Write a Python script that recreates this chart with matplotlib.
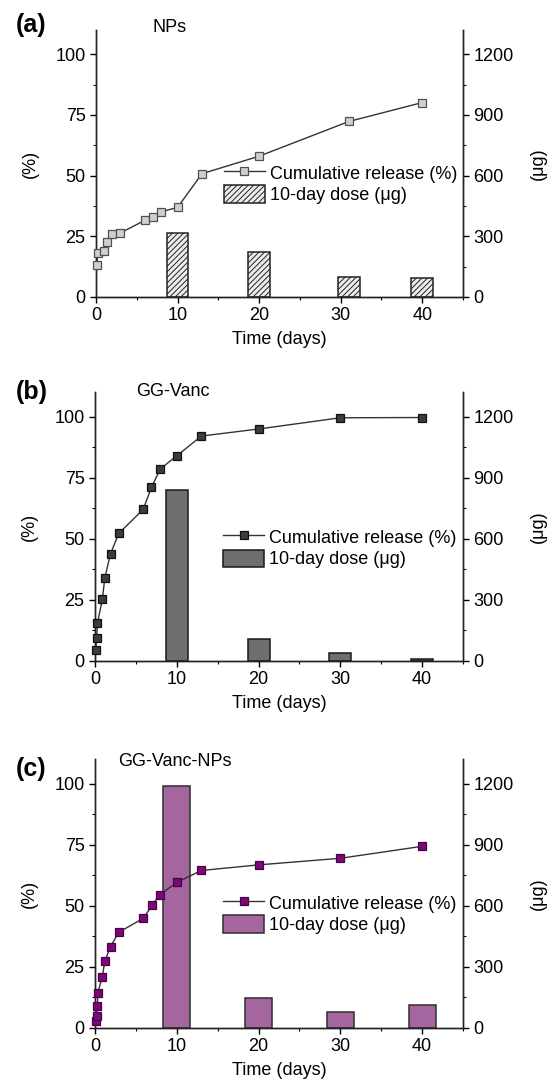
import matplotlib
matplotlib.use("Agg")
import matplotlib.pyplot as plt
from matplotlib.ticker import MultipleLocator
from matplotlib.lines import Line2D
from matplotlib.patches import Patch

plt.rcParams["font.family"] = ["Liberation Sans", "DejaVu Sans"]
plt.rcParams["font.size"] = 13
plt.rcParams["hatch.linewidth"] = 0.7

# cumulative release (%)
np_days = [0.13, 0.2, 1, 1.3, 2, 3, 6, 7, 8, 10, 13, 20, 31, 40]
np_release = [13.2, 18.0, 18.9, 22.7, 26.0, 26.4, 31.6, 32.8, 35.1, 36.9, 50.8, 58.0, 72.3, 80.1]

vanc_days = [0.1, 0.2, 0.3, 0.9, 1.2, 1.9, 2.9, 5.9, 6.9, 8, 10, 13, 20, 30, 40]
vanc_release = [4.5, 9.5, 15.6, 25.2, 34.1, 43.9, 52.2, 62.1, 71.1, 78.7, 84.0, 92.1, 95.0, 99.6, 99.7]

vnp_days = [0.1, 0.2, 0.3, 0.35, 0.9, 1.2, 1.9, 2.9, 5.9, 7, 7.9, 10, 13, 20, 30, 40]
vnp_release = [2.7, 5.0, 9.2, 14.5, 21.0, 27.4, 33.3, 39.2, 44.9, 50.3, 54.5, 59.6, 64.5, 66.8, 69.5, 74.4]

# 10-day doses (ug)
dose_days = [10, 20, 30, 40]
np_days_bar = [10, 20, 31, 40]
np_dose = [314, 224, 98, 92]
vanc_dose = [839, 106, 37, 10]
vnp_dose = [1187, 148, 80, 114]

panels = [
    dict(tag="(a)", name="NPs", x=np_days, y=np_release, bx=np_days_bar, by=np_dose, bw=2.65,
         mfc="#cfcfcf", mec="#505050", bfc="#ececec", bec="#222222", hatch="//////",
         left=96, bottom=0.7258, height=0.2465, leg_y=0.423, tag_y=25, name_x=152, name_y=28),
    dict(tag="(b)", name="GG-Vanc", x=vanc_days, y=vanc_release, bx=dose_days, by=vanc_dose, bw=2.7,
         mfc="#3c3c3c", mec="#111111", bfc="#6e6e6e", bec="#1a1a1a", hatch=None,
         left=95, bottom=0.3897, height=0.248, leg_y=0.42, tag_y=392, name_x=136, name_y=392),
    dict(tag="(c)", name="GG-Vanc-NPs", x=vnp_days, y=vnp_release, bx=dose_days, by=vnp_dose, bw=3.3,
         mfc="#7a0a78", mec="#4a0048", bfc="#a5669f", bec="#2e2e2e", hatch=None,
         left=95, bottom=0.0508, height=0.248, leg_y=0.424, tag_y=769, name_x=118, name_y=761),
]

W, H = 555, 1083
fig = plt.figure(figsize=(W / 100, H / 100), dpi=100)

for p in panels:
    ax = fig.add_axes([p["left"] / W, p["bottom"], (463 - p["left"]) / W, p["height"]])
    ax2 = ax.twinx()

    ax2.bar(p["bx"], p["by"], width=p["bw"], color=p["bfc"], edgecolor=p["bec"],
            linewidth=1.1, hatch=p["hatch"], zorder=2)
    ax.plot(p["x"], p["y"], color="#333333", lw=1.0, marker="s", ms=6.3,
            mfc=p["mfc"], mec=p["mec"], mew=0.9, zorder=3, clip_on=False)

    ax.set_zorder(ax2.get_zorder() + 1)
    ax.patch.set_visible(False)

    ax.set_xlim(0, 45)
    ax.set_ylim(0, 110)
    ax2.set_ylim(0, 1320)
    ax.xaxis.set_major_locator(MultipleLocator(10))
    ax.xaxis.set_minor_locator(MultipleLocator(5))
    ax.yaxis.set_major_locator(MultipleLocator(25))
    ax.yaxis.set_minor_locator(MultipleLocator(12.5))
    ax2.yaxis.set_major_locator(MultipleLocator(300))
    ax2.yaxis.set_minor_locator(MultipleLocator(150))

    for a in (ax, ax2):
        a.spines["top"].set_visible(False)
        for s in a.spines.values():
            s.set_linewidth(1.0)
            s.set_color("#222222")
        a.tick_params(which="major", direction="out", length=4.5, width=1.0, labelsize=13, pad=3)
        a.tick_params(which="minor", direction="out", length=2.5, width=0.8)

    ax.set_ylabel("(%)", labelpad=12)
    ax2.set_ylabel("(μg)", rotation=90, labelpad=12)
    ax.set_xlabel("Time (days)", labelpad=5)

    handles = [
        Line2D([], [], color="#333333", lw=1.0, marker="s", ms=6.3, mfc=p["mfc"], mec=p["mec"], mew=0.9),
        Patch(facecolor=p["bfc"], edgecolor=p["bec"], hatch=p["hatch"], linewidth=1.1),
    ]
    ax.legend(handles, ["Cumulative release (%)", "10-day dose (μg)"], loc="center left",
              bbox_to_anchor=(0.349, p["leg_y"]), frameon=False, borderpad=0, borderaxespad=0,
              handlelength=2.25, handleheight=1.1, handletextpad=0.3, labelspacing=0.15, fontsize=13)

    fig.text(16 / W, 1 - p["tag_y"] / H, p["tag"], fontsize=18, fontweight="bold", va="center", ha="left")
    fig.text(p["name_x"] / W, 1 - p["name_y"] / H, p["name"], fontsize=13, va="center", ha="left")

fig.savefig("out.png", dpi=100)
